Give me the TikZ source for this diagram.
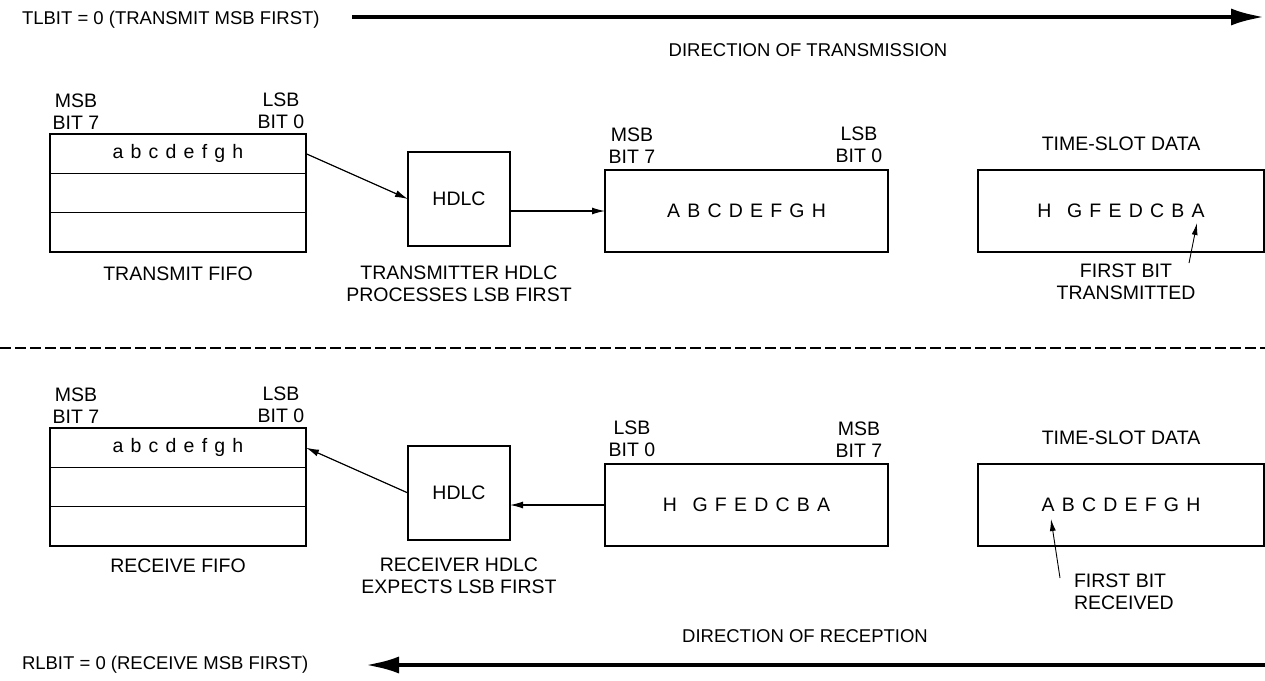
\documentclass[tikz,border=0pt]{standalone}
\usepackage{fontspec}
\setmainfont{Liberation Sans}
\usetikzlibrary{arrows.meta,calc}
\newcommand\gp{\hspace{0.37em}}
\begin{document}
\begin{tikzpicture}[x=1pt,y=-1pt,
  every node/.style={font=\fontsize{19.5}{22}\selectfont, inner sep=0pt, outer sep=0pt},
  small/.style={font=\fontsize{18.5}{21}\selectfont},
  box/.style={draw, line width=2pt},
  lbl/.style={align=center},
  divline/.style={line width=1.4pt},
  conn/.style={line width=1.2pt, -{Latex[length=13pt,width=7pt]}},
  bigarrow/.style={line width=4.5pt, -{Latex[length=34pt,width=17pt]}},
  pointer/.style={line width=0.9pt, -{Latex[length=12pt,width=6pt]}},
  sep/.style={line width=1.6pt, dash pattern=on 11pt off 4pt},
]
\useasboundingbox (0,0) rectangle (1265,680);

% ---------- top: transmission ----------
\node[small, anchor=west] (tlbit) at (22,20) {TLBIT = 0 (TRANSMIT MSB FIRST)};
\coordinate (tA) at (352,17);
\coordinate (tB) at (1265,17);
\draw[bigarrow] (tA) -- (tB);
\node[small] (dirT) at (808,50) {DIRECTION OF TRANSMISSION};

\node[box, minimum width=256, minimum height=118] (fifoT) at (178,193) {};
\draw[divline] ($(fifoT.north west)!1/3!(fifoT.south west)$) -- ($(fifoT.north east)!1/3!(fifoT.south east)$);
\draw[divline] ($(fifoT.north west)!2/3!(fifoT.south west)$) -- ($(fifoT.north east)!2/3!(fifoT.south east)$);
\node (rowT) at ($(fifoT.north)!1/6!(fifoT.south)$) {a\gp b\gp c\gp d\gp e\gp f\gp g\gp h};
\node[lbl, anchor=south] (msbT) at (76,129) {MSB\\BIT 7};
\node[lbl, anchor=south] (lsbT) at (281,129) {LSB\\BIT 0};
\node (tfifo) at (178,274) {TRANSMIT FIFO};

\node[box, minimum width=102, minimum height=94] (hdlcT) at (459,199) {HDLC};
\node[lbl, anchor=north] (thdlc) at (459,266) {TRANSMITTER HDLC\\PROCESSES LSB FIRST};

\node[box, minimum width=283, minimum height=82] (regT) at (746.5,211) {A\gp B\gp C\gp D\gp E\gp F\gp G\gp H};
\node[lbl, anchor=south] (msbT2) at (632,163) {MSB\\BIT 7};
\node[lbl, anchor=south] (lsbT2) at (859,163) {LSB\\BIT 0};

\node (tsT) at (1121,144) {TIME-SLOT DATA};
\node[box, minimum width=286, minimum height=82] (slotT) at (1121,211) {H\hspace{0.8em}G\gp F\gp E\gp D\gp C\gp B\gp A};
\node[lbl, anchor=north] (fbT) at (1126,264) {FIRST BIT\\TRANSMITTED};

\draw[conn] (rowT -| fifoT.east) -- (hdlcT.west);
\draw[conn] (hdlcT.east |- regT.west) -- (regT.west);
\coordinate (pT0) at (1189,263);
\coordinate (pT1) at (1197,223);
\draw[pointer] (pT0) -- (pT1);

% ---------- separator ----------
\coordinate (d0) at (0,348);
\coordinate (d1) at (1265,348);
\draw[sep] (d0) -- (d1);

% ---------- bottom: reception ----------
\node[box, minimum width=256, minimum height=118] (fifoB) at (178,487) {};
\draw[divline] ($(fifoB.north west)!1/3!(fifoB.south west)$) -- ($(fifoB.north east)!1/3!(fifoB.south east)$);
\draw[divline] ($(fifoB.north west)!2/3!(fifoB.south west)$) -- ($(fifoB.north east)!2/3!(fifoB.south east)$);
\node (rowB) at ($(fifoB.north)!1/6!(fifoB.south)$) {a\gp b\gp c\gp d\gp e\gp f\gp g\gp h};
\node[lbl, anchor=south] (msbB) at (76,423) {MSB\\BIT 7};
\node[lbl, anchor=south] (lsbB) at (281,423) {LSB\\BIT 0};
\node (rfifo) at (178,566) {RECEIVE FIFO};

\node[box, minimum width=102, minimum height=94] (hdlcB) at (459,493) {HDLC};
\node[lbl, anchor=north] (rhdlc) at (459,558) {RECEIVER HDLC\\EXPECTS LSB FIRST};

\node[box, minimum width=283, minimum height=82] (regB) at (746.5,505) {H\hspace{0.8em}G\gp F\gp E\gp D\gp C\gp B\gp A};
\node[lbl, anchor=south] (lsbB2) at (632,457) {LSB\\BIT 0};
\node[lbl, anchor=south] (msbB2) at (859,457) {MSB\\BIT 7};

\node (tsB) at (1121,438) {TIME-SLOT DATA};
\node[box, minimum width=286, minimum height=82] (slotB) at (1121,505) {A\gp B\gp C\gp D\gp E\gp F\gp G\gp H};
\node[align=left, anchor=north west] (fbB) at (1074,574) {FIRST BIT\\RECEIVED};

\draw[conn] (regB.west) -- (hdlcB.east |- regB.west);
\draw[conn] (hdlcB.west) -- (rowB -| fifoB.east);
\coordinate (pB0) at (1060,578);
\coordinate (pB1) at (1051,519);
\draw[pointer] (pB0) -- (pB1);

\node[small] (dirB) at (805,636) {DIRECTION OF RECEPTION};
\coordinate (bA) at (1265,665);
\coordinate (bB) at (365,665);
\draw[bigarrow] (bA) -- (bB);
\node[small, anchor=west] (rlbit) at (22,665) {RLBIT = 0 (RECEIVE MSB FIRST)};
\end{tikzpicture}
\end{document}
